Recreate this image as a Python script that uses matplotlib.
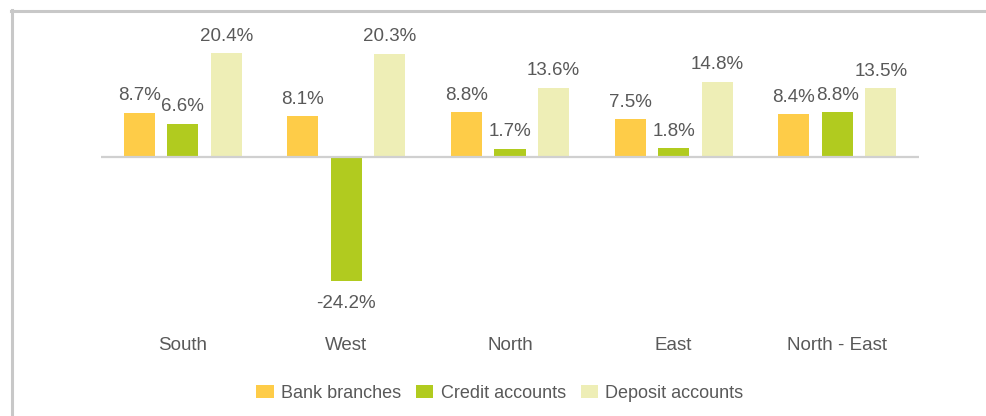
import matplotlib.pyplot as plt
import numpy as np
from matplotlib.lines import Line2D

plt.rcParams['font.family'] = ['Liberation Sans', 'DejaVu Sans']

regions = ["South", "West", "North", "East", "North - East"]
series = ["Bank branches", "Credit accounts", "Deposit accounts"]
bank_branches = [8.7, 8.1, 8.8, 7.5, 8.4]
credit_accounts = [6.6, -24.2, 1.7, 1.8, 8.8]
deposit_accounts = [20.4, 20.3, 13.6, 14.8, 13.5]
colors = ["#FECC48", "#B1CB1F", "#EEEEB6"]

W, H = 987, 416
fig = plt.figure(figsize=(W / 100, H / 100), dpi=100)
# axes placed in pixel terms: x 101..919, y 20..300 from top
ax = fig.add_axes([101 / W, 1 - 300 / H, 818 / W, 280 / H])

x = np.arange(len(regions))
width = 0.19
step = 0.266
text_col = "#595959"
fs = 13.5
for i, (name, vals) in enumerate(zip(series, [bank_branches, credit_accounts, deposit_accounts])):
    pos = x + (i - 1) * step
    ax.bar(pos, vals, width, color=colors[i], label=name, zorder=2)
    for p, v in zip(pos, vals):
        if v >= 0:
            ax.annotate(f"{v:.1f}%", (p, v), xytext=(0, 6), textcoords="offset points",
                        ha="center", va="bottom", fontsize=fs, color=text_col)
        else:
            ax.annotate(f"{v:.1f}%", (p, v), xytext=(0, -10), textcoords="offset points",
                        ha="center", va="top", fontsize=fs, color=text_col)

ax.axhline(0, color="#d0d0d0", lw=1.6, zorder=3)
ax.set_xlim(-0.5, len(regions) - 0.5)
ax.set_ylim(-28.0, 26.9)
ax.set_xticks(x)
ax.set_xticklabels(regions, fontsize=fs, color=text_col)
ax.tick_params(axis="x", length=0, pad=27)
ax.set_yticks([])
for s in ax.spines.values():
    s.set_visible(False)

fig.legend(loc="center", bbox_to_anchor=(500 / W, 1 - 393 / H), ncol=3, frameon=False,
           fontsize=13, labelcolor=text_col, handlelength=0.95, handleheight=0.75,
           handletextpad=0.4, columnspacing=0.85)

# outer frame: left and top edges
fig.add_artist(Line2D([12 / W, 12 / W], [0, 1 - 10 / H], color="#c8c8c8", lw=2.2,
                      transform=fig.transFigure))
fig.add_artist(Line2D([11 / W, 1], [1 - 10.5 / H, 1 - 10.5 / H], color="#c8c8c8", lw=2.2,
                      transform=fig.transFigure))

fig.savefig("out.png", dpi=100)
